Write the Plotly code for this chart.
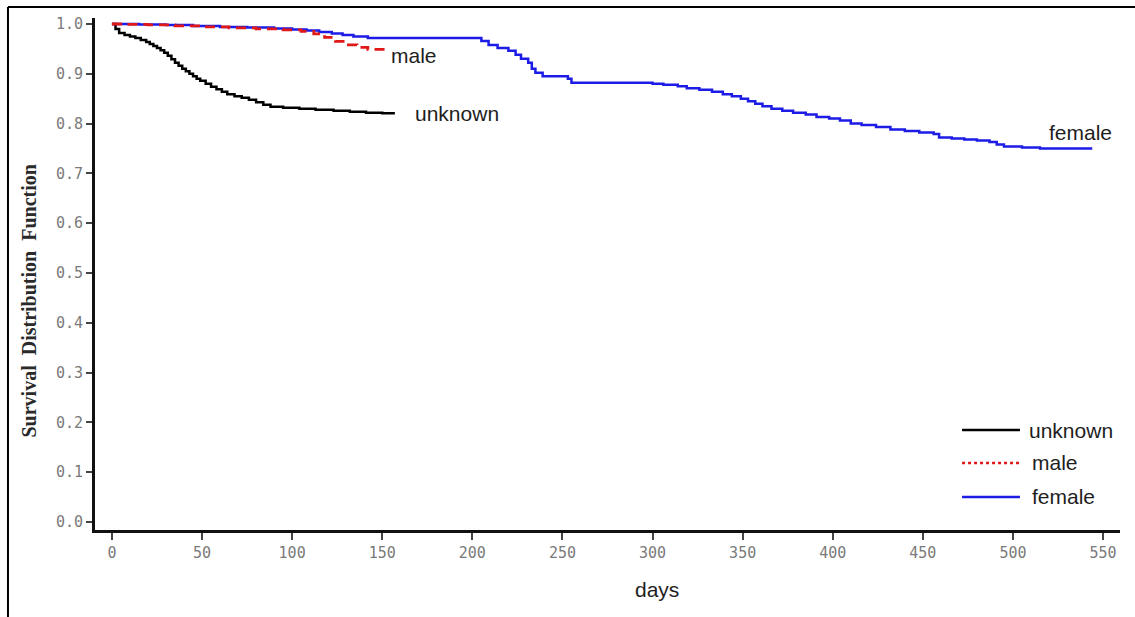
import plotly.graph_objects as go

# Kaplan-Meier survival estimates by group
unknown_days = [0, 2, 4, 7, 10, 13, 16, 19, 21, 23, 25, 27, 29, 31, 33, 35, 37, 39, 41, 43, 45,
                47, 49, 52, 55, 58, 61, 64, 68, 72, 76, 80, 84, 88, 95, 104, 113, 123, 132,
                141, 150, 157]
unknown_surv = [1.0, 0.99, 0.982, 0.978, 0.975, 0.972, 0.968, 0.964, 0.960, 0.956, 0.952,
                0.947, 0.942, 0.936, 0.929, 0.922, 0.916, 0.910, 0.905, 0.900, 0.895, 0.890,
                0.886, 0.880, 0.874, 0.869, 0.864, 0.859, 0.855, 0.852, 0.848, 0.843, 0.838,
                0.834, 0.832, 0.830, 0.828, 0.826, 0.824, 0.822, 0.821, 0.821]

male_days = [0, 8, 20, 35, 50, 65, 80, 95, 105, 112, 118, 124, 130, 136, 142, 152]
male_surv = [1.0, 0.999, 0.998, 0.996, 0.994, 0.992, 0.990, 0.988, 0.985, 0.980, 0.973,
             0.965, 0.958, 0.953, 0.949, 0.949]

female_days = [0, 15, 30, 45, 60, 75, 90, 100, 108, 115, 122, 128, 134, 142, 205, 209, 214,
               220, 224, 227, 231, 233, 235, 239, 253, 255, 300, 306, 314, 319, 326, 333, 339,
               344, 349, 353, 357, 361, 366, 372, 378, 385, 391, 398, 404, 410, 416, 424, 432,
               440, 448, 456, 459, 466, 473, 480, 487, 491, 495, 505, 515, 544]
female_surv = [1.0, 0.999, 0.998, 0.996, 0.994, 0.993, 0.991, 0.989, 0.987, 0.984, 0.981,
               0.978, 0.975, 0.972, 0.966, 0.958, 0.952, 0.946, 0.938, 0.930, 0.922, 0.910,
               0.902, 0.895, 0.890, 0.882, 0.880, 0.878, 0.875, 0.871, 0.868, 0.864, 0.859,
               0.855, 0.850, 0.845, 0.840, 0.835, 0.830, 0.826, 0.822, 0.818, 0.813, 0.810,
               0.806, 0.800, 0.797, 0.793, 0.788, 0.785, 0.782, 0.779, 0.772, 0.770, 0.768,
               0.766, 0.763, 0.758, 0.754, 0.752, 0.750, 0.750]

x_ticks = [0, 50, 100, 150, 200, 250, 300, 350, 400, 450, 500, 550]
y_ticks = [0.0, 0.1, 0.2, 0.3, 0.4, 0.5, 0.6, 0.7, 0.8, 0.9, 1.0]
y_tick_text = ["0.0", "0.1", "0.2", "0.3", "0.4", "0.5", "0.6", "0.7", "0.8", "0.9", "1.0"]

group_names = ["unknown", "male", "female"]
group_colors = ["#000000", "#e01818", "#1c1ce6"]

label_font = dict(family="Liberation Sans, Arial, sans-serif", size=21, color="#1e1e1e")
tick_font = dict(family="DejaVu Sans Mono, monospace", size=15, color="#7a7a7a")

fig = go.Figure()

fig.add_trace(go.Scatter(x=unknown_days, y=unknown_surv, mode="lines", line_shape="hv",
                         line=dict(color=group_colors[0], width=2.5), showlegend=False))
fig.add_trace(go.Scatter(x=female_days, y=female_surv, mode="lines", line_shape="hv",
                         line=dict(color=group_colors[2], width=2.5), showlegend=False))
fig.add_trace(go.Scatter(x=male_days, y=male_surv, mode="lines", line_shape="hv",
                         line=dict(color=group_colors[1], width=2.8, dash="10px,6px"),
                         showlegend=False))

annotations = []
# curve end labels
annotations.append(dict(x=male_days[-1] + 2, y=male_surv[-1] - 0.012, xref="x", yref="y",
                        text=group_names[1], showarrow=False, xanchor="left", yanchor="middle",
                        font=label_font))
annotations.append(dict(x=unknown_days[-1] + 10, y=unknown_surv[-1], xref="x", yref="y",
                        text=group_names[0], showarrow=False, xanchor="left", yanchor="middle",
                        font=label_font))
annotations.append(dict(x=female_days[-1] - 25, y=female_surv[-1] + 0.032, xref="x", yref="y",
                        text=group_names[2], showarrow=False, xanchor="left", yanchor="middle",
                        font=label_font))

# axis titles
annotations.append(dict(x=-0.064, y=0.447, xref="paper", yref="paper", textangle=-90,
                        text="<b>Survival  Distribution  Function</b>", showarrow=False,
                        font=dict(family="Liberation Serif, Times New Roman, serif", size=20,
                                  color="#2a2a2a"),
                        xanchor="center", yanchor="middle"))
annotations.append(dict(x=0.548, y=-0.117, xref="paper", yref="paper", text="days",
                        showarrow=False, font=label_font, xanchor="center", yanchor="middle"))

# legend block (lines + text)
shapes = []
legend_y = [0.1953, 0.1309, 0.0645]
legend_dash = ["solid", "3px,3px", "solid"]
legend_text_x = [0.9093, 0.912, 0.912]
for name, col, ly, dsh, tx in zip(group_names, group_colors, legend_y, legend_dash, legend_text_x):
    shapes.append(dict(type="line", xref="paper", yref="paper", x0=0.8459, x1=0.9024,
                       y0=ly, y1=ly, line=dict(color=col, width=2.5, dash=dsh)))
    annotations.append(dict(x=tx, y=ly, xref="paper", yref="paper", text=name,
                            showarrow=False, xanchor="left", yanchor="middle", font=label_font))

# page frame (left and top edges)
shapes.append(dict(type="line", xref="paper", yref="paper", x0=-0.0849, x1=-0.0849,
                   y0=-0.2, y1=1.0215, line=dict(color="#000000", width=2)))
shapes.append(dict(type="line", xref="paper", yref="paper", x0=-0.0849, x1=1.02,
                   y0=1.0215, y1=1.0215, line=dict(color="#000000", width=2)))

fig.update_layout(
    width=1135, height=617,
    margin=dict(l=95, r=15, t=18, b=87),
    paper_bgcolor="white", plot_bgcolor="white",
    annotations=annotations, shapes=shapes,
    xaxis=dict(range=[-9.4, 559.4], tickvals=x_ticks, ticktext=[str(v) for v in x_ticks],
               showgrid=False, zeroline=False, showline=True, linecolor="#111111",
               linewidth=3, ticks="outside", ticklen=7, tickwidth=1.5, tickcolor="#444444",
               tickfont=tick_font),
    yaxis=dict(range=[-0.016, 1.012], tickvals=y_ticks, ticktext=y_tick_text,
               showgrid=False, zeroline=False, showline=True, linecolor="#111111",
               linewidth=3, ticks="outside", ticklen=6, tickwidth=1.5, tickcolor="#444444",
               tickfont=tick_font),
)

fig.write_html("out.html")
